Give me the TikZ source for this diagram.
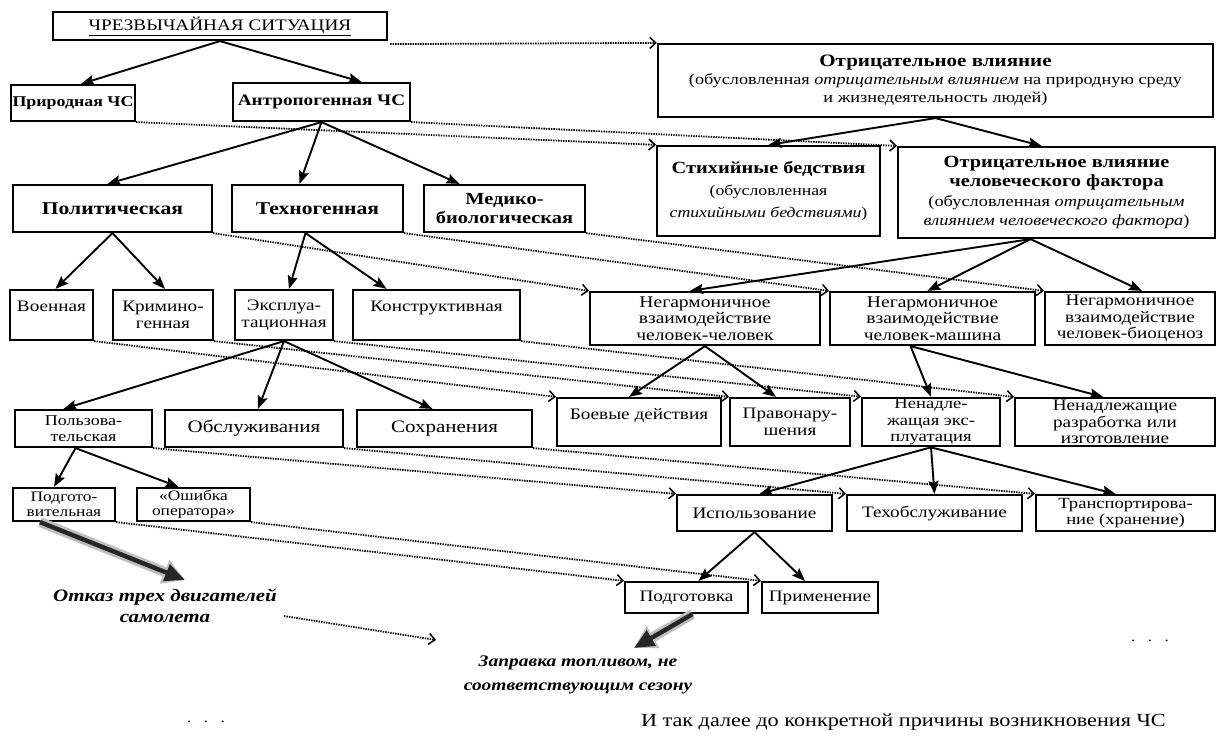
\documentclass[tikz,border=0pt]{standalone}
\usepackage{fontspec}
\setmainfont{Liberation Serif}[FakeStretch=1.2]
\usetikzlibrary{arrows.meta,calc}
\newcommand\fs[2]{\fontsize{#1}{#2}\selectfont}
\begin{document}
\begin{tikzpicture}[x=1pt,y=-1pt,
  box/.style={draw, line width=2.2pt, align=center, inner sep=1pt, font=\fs{16}{17}},
  bbox/.style={box, font=\bfseries\fs{18}{19}},
  arr/.style={line width=1.9pt, -{Stealth[length=13pt,width=10pt,inset=2pt]}},
  dotarr/.style={line width=1.8pt, dash pattern=on 1.4pt off 1.1pt, -{Straight Barb[length=6pt,width=11pt,line width=1.5pt]}},
  fat/.style={line width=4.5pt, black!85, -{Triangle[length=20pt,width=17pt]},
    preaction={draw=black!25, line width=10pt, -{Triangle[length=22pt,width=24pt]}}},
  note/.style={align=center, inner sep=0pt}]
\useasboundingbox (0,0) rectangle (1221,742);
\fill[white] (0,0) rectangle (1221,742);

% row 1-2
\node[box, font=\fs{16}{17}, minimum width=334pt, minimum height=28pt] (cs) at (220,26) {\underline{ЧРЕЗВЫЧАЙНАЯ СИТУАЦИЯ}};
\node[bbox, font=\bfseries\fs{14.9}{17}, minimum width=124pt, minimum height=36pt] (prir) at (73,103) {Природная ЧС};
\node[bbox, font=\bfseries\fs{16}{17}, minimum width=177pt, minimum height=38pt] (antr) at (321.5,102) {Антропогенная ЧС};
\node[box, font=\fs{15.2}{18}, minimum width=555pt, minimum height=73pt] (otr) at (935.5,80.5)
  {{\bfseries\fs{17.5}{18}Отрицательное влияние}\\(обусловленная \textit{отрицательным влиянием} на природную среду\\и жизнедеятельность людей)};
\node[box, font=\fs{14.8}{22}, minimum width=223pt, minimum height=90pt] (stih) at (768.5,191)
  {{\bfseries\fs{17}{22}Стихийные бедствия}\\(обусловленная\\\textit{стихийными бедствиями})};
\node[box, font=\fs{15.3}{19.5}, minimum width=317pt, minimum height=91pt] (chel) at (1056.5,192.5)
  {{\bfseries\fs{17}{19.5}Отрицательное влияние}\\{\bfseries\fs{17}{19.5}человеческого фактора}\\(обусловленная \textit{отрицательным}\\\textit{влиянием человеческого фактора})};

% row 3
\node[bbox, minimum width=199pt, minimum height=47pt] (polit) at (112.5,208.5) {Политическая};
\node[bbox, minimum width=171pt, minimum height=47pt] (tehn) at (317.5,208.5) {Техногенная};
\node[bbox, font=\bfseries\fs{17}{19}, minimum width=161pt, minimum height=47pt] (med) at (504.5,208.5) {Медико-\\биологическая};

% row 4
\node[box, minimum width=83pt, minimum height=50pt] (voen) at (51.5,315) {Военная\\\mbox{}};
\node[box, minimum width=100pt, minimum height=50pt] (krim) at (163,315) {Кримино-\\генная};
\node[box, minimum width=98pt, minimum height=50pt] (expl) at (284,315) {Эксплуа-\\тационная};
\node[box, minimum width=167pt, minimum height=50pt] (konstr) at (436.5,315) {Конструктивная\\\mbox{}};
\node[box, font=\fs{16.3}{16.5}, minimum width=230pt, minimum height=53pt] (ng1) at (705,318.5) {Негармоничное\\взаимодействие\\человек-человек};
\node[box, font=\fs{16.3}{16.5}, minimum width=205pt, minimum height=53pt] (ng2) at (932.5,318.5) {Негармоничное\\взаимодействие\\человек-машина};
\node[box, font=\fs{16}{16.5}, minimum width=170pt, minimum height=53pt] (ng3) at (1130,318.5) {Негармоничное\\взаимодействие\\человек-биоценоз};

% row 5
\node[box, font=\fs{16}{16.5}, minimum width=164pt, minimum height=48pt] (boev) at (639,422) {Боевые действия\\\mbox{}};
\node[box, font=\fs{16}{16.5}, minimum width=120pt, minimum height=48pt] (prav) at (790,422) {Правонару-\\шения};
\node[box, font=\fs{15.5}{16.5}, minimum width=138pt, minimum height=48pt] (nenexp) at (931,422) {Ненадле-\\жащая экс-\\плуатация};
\node[box, font=\fs{16}{16.5}, minimum width=200pt, minimum height=48pt] (nenraz) at (1115,422) {Ненадлежащие\\разработка или\\изготовление};

% row 6
\node[box, font=\fs{15}{16}, minimum width=137pt, minimum height=37pt] (polz) at (83.5,428.5) {Пользова-\\тельская};
\node[box, font=\fs{17.5}{17}, minimum width=178pt, minimum height=37pt] (obsl) at (254,428.5) {Обслуживания};
\node[box, font=\fs{17.5}{17}, minimum width=175pt, minimum height=37pt] (sohr) at (444.5,428.5) {Сохранения};

% row 7
\node[box, minimum width=155pt, minimum height=36pt] (isp) at (754.5,513) {Использование};
\node[box, minimum width=175pt, minimum height=36pt] (tehobs) at (934.5,513) {Техобслуживание};
\node[box, font=\fs{15.5}{16}, minimum width=179pt, minimum height=36pt] (transp) at (1125.5,513) {Транспортирова-\\ние (хранение)};

% row 8
\node[box, font=\fs{14.5}{15}, minimum width=102pt, minimum height=33pt] (podg1) at (64,504.5) {Подгото-\\вительная};
\node[box, font=\fs{14.5}{15}, minimum width=113pt, minimum height=33pt] (osh) at (193.5,504.5) {«Ошибка\\оператора»};

% row 9
\node[box, minimum width=123pt, minimum height=31pt] (podg2) at (686.5,597.5) {Подготовка};
\node[box, minimum width=116pt, minimum height=31pt] (prim) at (820,597.5) {Применение};

% free texts
\node[note, font=\bfseries\itshape\fs{17.5}{21}] (otkaz) at (165,606) {Отказ трех двигателей\\самолета};
\node[note, font=\bfseries\itshape\fs{16.2}{24}] (zapr) at (578,675) {Заправка топливом, не\\соответствующим сезону};
\node[note, font=\fs{14}{14}] (dots1) at (206,722) {.\ \ \ .\ \ \ .};
\node[note, font=\fs{14}{14}] (dots2) at (1150,641) {.\ \ \ .\ \ \ .};
\node[note, font=\fs{18.5}{15}, anchor=east] (fin) at (1166,722) {И так далее до конкретной причины возникновения ЧС};

\coordinate (otkazin) at (185,580);
\coordinate (zaprin) at (634,648);
\coordinate (zaprdot) at (436,640);
\coordinate (otkazout) at (284,616);

% solid arrows
\draw[arr] (cs.south) -- ($(prir.north)+(8,0)$);
\draw[arr] (cs.south) -- ($(antr.north)+(40,0)$);
\draw[arr] (antr.south) -- ($(polit.north)+(-5,0)$);
\draw[arr] (antr.south) -- ($(tehn.north)+(-18,0)$);
\draw[arr] (antr.south) -- ($(med.north)+(-45,0)$);
\draw[arr] (otr.south) -- (stih.north);
\draw[arr] (otr.south) -- ($(chel.north)+(-15,0)$);
\draw[arr] ($(chel.south)+(-26,0)$) -- ($(ng1.north)+(-15,0)$);
\draw[arr] ($(chel.south)+(-26,0)$) -- ($(ng2.north)+(-5,0)$);
\draw[arr] ($(chel.south)+(-26,0)$) -- ($(ng3.north)+(12,0)$);
\draw[arr] (polit.south) -- ($(voen.north)+(4,0)$);
\draw[arr] (polit.south) -- ($(krim.north)+(2,0)$);
\draw[arr] ($(tehn.south)+(-12,0)$) -- ($(expl.north)+(5,0)$);
\draw[arr] ($(tehn.south)+(-12,0)$) -- ($(konstr.north)+(-50,0)$);
\draw[arr] (expl.south) -- ($(polz.north)+(-20,0)$);
\draw[arr] (expl.south) -- ($(obsl.north)+(4,0)$);
\draw[arr] (expl.south) -- ($(sohr.north)+(-12,0)$);
\draw[arr] (ng1.south) -- ($(boev.north)+(-10,0)$);
\draw[arr] (ng1.south) -- ($(prav.north)+(-14,0)$);
\draw[arr] ($(ng2.south)+(-22,0)$) -- (nenexp.north);
\draw[arr] ($(ng2.south)+(-22,0)$) -- ($(nenraz.north)+(-12,0)$);
\draw[arr] (nenexp.south) -- ($(isp.north)+(5,0)$);
\draw[arr] (nenexp.south) -- (tehobs.north);
\draw[arr] (nenexp.south) -- ($(transp.north)+(-10,0)$);
\draw[arr] ($(polz.south)+(-8,0)$) -- ($(podg1.north)+(-10,0)$);
\draw[arr] ($(polz.south)+(-8,0)$) -- ($(osh.north)+(-15,0)$);
\draw[arr] (isp.south) -- ($(podg2.north)+(12,0)$);
\draw[arr] (isp.south) -- ($(prim.north)+(-15,0)$);

% thick arrows
\draw[fat] ($(podg1.south)+(-24,0)$) -- (otkazin);
\draw[fat] ($(podg2.south)+(6,0)$) -- (zaprin);

% dotted arrows
\draw[dotarr] ($(cs.south east)+(2,3)$) -- (otr.north west);
\draw[dotarr] (prir.south east) -- (stih.north west);
\draw[dotarr] (antr.south east) -- (chel.north west);
\draw[dotarr] (polit.south east) -- (ng1.north west);
\draw[dotarr] (tehn.south east) -- (ng2.north west);
\draw[dotarr] (med.south east) -- (ng3.north west);
\draw[dotarr] (voen.south east) -- (boev.north west);
\draw[dotarr] (krim.south east) -- (prav.north west);
\draw[dotarr] (expl.south east) -- (nenexp.north west);
\draw[dotarr] (konstr.south east) -- (nenraz.north west);
\draw[dotarr] (polz.south east) -- (isp.north west);
\draw[dotarr] (obsl.south east) -- (tehobs.north west);
\draw[dotarr] (sohr.south east) -- (transp.north west);
\draw[dotarr] (podg1.south east) -- (podg2.north west);
\draw[dotarr] (osh.south east) -- (prim.north west);
\draw[dotarr] (otkazout) -- (zaprdot);
\end{tikzpicture}
\end{document}
